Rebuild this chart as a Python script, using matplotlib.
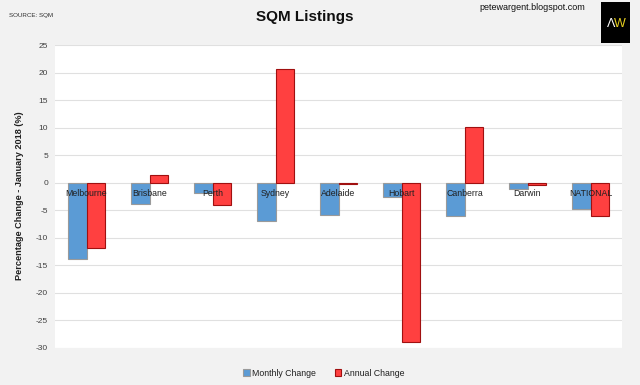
import matplotlib
matplotlib.use("Agg")
import matplotlib.pyplot as plt
from matplotlib.patches import Rectangle
import numpy as np

categories = ["Melbourne", "Brisbane", "Perth", "Sydney", "Adelaide", "Hobart", "Canberra", "Darwin", "NATIONAL"]
monthly_change = [-13.8, -3.9, -1.9, -6.9, -5.8, -2.5, -6.1, -1.2, -4.8]
annual_change = [-11.8, 1.4, -4.1, 20.7, -0.25, -29.0, 10.1, -0.4, -6.0]
yticks = list(range(-30, 30, 5))

plt.rcParams['font.family'] = ['Liberation Sans', 'DejaVu Sans']

W, H = 640, 385
fig = plt.figure(figsize=(W / 100, H / 100), dpi=100, facecolor="#f2f2f2")
ax = fig.add_axes([55 / W, 1 - 348 / H, (622 - 55) / W, (348 - 45) / H])
ax.set_facecolor("white")

x = np.arange(len(categories))
bw = 0.29
ax.bar(x - bw / 2, monthly_change, bw, color="#5b9bd5", edgecolor="#9a9a9a", linewidth=0.8,
       label="Monthly Change", zorder=3)
ax.bar(x + bw / 2, annual_change, bw, color="#ff4040", edgecolor="#a01010", linewidth=0.8,
       label="Annual Change", zorder=3)

ax.set_xlim(-0.5, len(categories) - 0.5)
ax.set_ylim(-30, 25)
ax.set_yticks(yticks)
ax.set_yticklabels([str(t) for t in yticks], fontsize=6, color="#404040")
ax.tick_params(axis="y", length=0, pad=5)
ax.set_xticks([])
ax.grid(axis="y", color="#e0e0e0", linewidth=0.8, zorder=0)
for s in ax.spines.values():
    s.set_visible(False)

for i, name in enumerate(categories):
    ax.text(i, -2.0, name, ha="center", va="center", fontsize=6.3, color="#202020", zorder=4)

fig.text(20 / W, 1 - 196 / H, "Percentage Change - January 2018 (%)", rotation=90,
         ha="center", va="center", fontsize=6.6, fontweight="bold", color="#202020")

fig.text(305 / W, 1 - 17 / H, "SQM Listings", ha="center", va="center", fontsize=11,
         fontweight="bold", color="#101010")
fig.text(9 / W, 1 - 16 / H, "SOURCE: SQM", ha="left", va="center", fontsize=4.5, color="#303030")
fig.text(532 / W, 1 - 8 / H, "petewargent.blogspot.com", ha="center", va="center",
         fontsize=6.5, color="#101010")

fig.patches.append(Rectangle((601 / W, 1 - 43 / H), 29 / W, 41 / H, transform=fig.transFigure,
                             facecolor="black", edgecolor="none"))
fig.text(611 / W, 1 - 24 / H, "Λ", ha="center", va="center", fontsize=9, color="white")
fig.text(620 / W, 1 - 24 / H, "W", ha="center", va="center", fontsize=9, color="#e8d020")

leg = fig.legend(loc="center", bbox_to_anchor=(324 / W, 1 - 373 / H), ncol=2, frameon=False,
                 fontsize=6.3, handlelength=0.7, handleheight=0.7, handletextpad=0.3,
                 columnspacing=2.2)
for t in leg.get_texts():
    t.set_color("#202020")

fig.savefig("out.png", dpi=100, facecolor=fig.get_facecolor())
